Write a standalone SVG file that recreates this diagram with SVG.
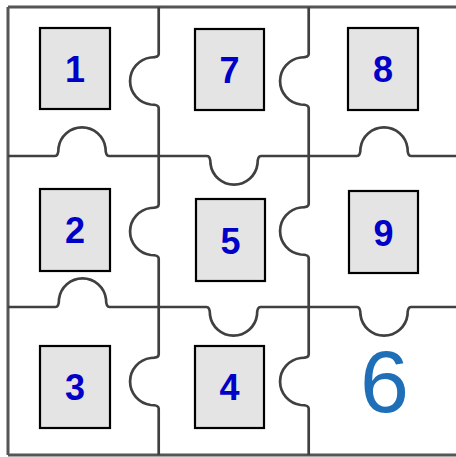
<svg xmlns="http://www.w3.org/2000/svg" width="456" height="457" viewBox="0 0 456 457">
<style>
.ln{fill:none;stroke:#404040;stroke-width:2.7;stroke-linejoin:round}
.fr{fill:none;stroke:#555;stroke-width:3}
.box{fill:#e4e4e4;stroke:#000;stroke-width:2.2}
.num{font-family:"Liberation Sans",Arial,sans-serif;font-weight:bold;font-size:36px;fill:#0000c8;text-anchor:middle}
.six{font-family:"Liberation Sans",Arial,sans-serif;font-size:88px;fill:#1e6fb8;text-anchor:middle}
</style>
<rect width="456" height="457" fill="#fff"/>
<g id="outlines">
<path class="fr" d="M8,7 H456 M8,7 V455 M8,455 H456"/>
<path class="ln" d="M158.7,7 V54 Q158.7,57.5 150.7,57.5 A23.7,23.7 0 0 0 150.7,104.5 Q158.7,104.5 158.7,108 V204.5 Q158.7,208 150.7,208 A23.7,23.7 0 0 0 150.7,255 Q158.7,255 158.7,258.5 V354.5 Q158.7,358 150.7,358 A23.7,23.7 0 0 0 150.7,405 Q158.7,405 158.7,408.5 V455"/>
<path class="ln" d="M308.7,7 V54 Q308.7,57.5 300.7,57.5 A23.7,23.7 0 0 0 300.7,104.5 Q308.7,104.5 308.7,108 V204 Q308.7,207.5 300.7,207.5 A23.7,23.7 0 0 0 300.7,254.5 Q308.7,254.5 308.7,258 V354.5 Q308.7,358 300.7,358 A23.7,23.7 0 0 0 300.7,405 Q308.7,405 308.7,408.5 V455"/>
<path class="ln" d="M8,156 H55 Q58.5,156 58.5,148 A23.7,23.7 0 0 1 105.5,148 Q105.5,156 109,156 H207 Q210.5,156 210.5,164 A23.7,23.7 0 0 0 257.5,164 Q257.5,156 261,156 H357 Q360.5,156 360.5,148 A23.7,23.7 0 0 1 407.5,148 Q407.5,156 411,156 H456"/>
<path class="ln" d="M8,307 H55.5 Q59,307 59,299 A23.7,23.7 0 0 1 106,299 Q106,307 109.5,307 H206.5 Q210,307 210,315 A23.7,23.7 0 0 0 257,315 Q257,307 260.5,307 H357 Q360.5,307 360.5,315 A23.7,23.7 0 0 0 407.5,315 Q407.5,307 411,307 H456"/>
</g>
<g id="n1"><rect class="box" x="40" y="28" width="70" height="81"/><text class="num" x="75" y="82">1</text></g>
<g id="n7"><rect class="box" x="195" y="29" width="69" height="81"/><text class="num" x="229.5" y="83">7</text></g>
<g id="n8"><rect class="box" x="348" y="28" width="70" height="82"/><text class="num" x="383" y="82">8</text></g>
<g id="n2"><rect class="box" x="40" y="189" width="70" height="82"/><text class="num" x="75" y="243">2</text></g>
<g id="n5"><rect class="box" x="196" y="199" width="69" height="82"/><text class="num" x="230.5" y="253.5">5</text></g>
<g id="n9"><rect class="box" x="349" y="191" width="69" height="82"/><text class="num" x="383.5" y="245.5">9</text></g>
<g id="n3"><rect class="box" x="40" y="346" width="70" height="82"/><text class="num" x="75" y="400">3</text></g>
<g id="n4"><rect class="box" x="195" y="346" width="69" height="82"/><text class="num" x="229.5" y="400">4</text></g>
<g id="n6"><text class="six" x="384.5" y="412">6</text></g>
</svg>
